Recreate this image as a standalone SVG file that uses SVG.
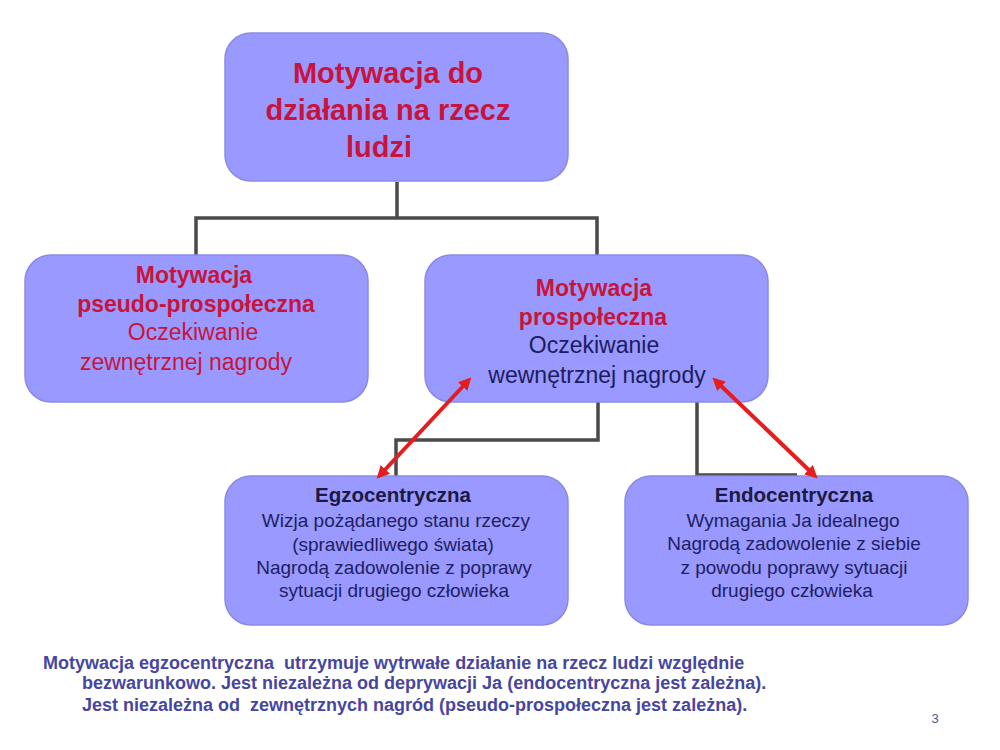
<svg xmlns="http://www.w3.org/2000/svg" width="1000" height="750" viewBox="0 0 1000 750">
<defs>
<style>
.box{fill:#9999ff;stroke:#8a8ae6;stroke-width:1.5}
.conn{fill:none;stroke:#4a4a4a;stroke-width:3.5}
.arr{stroke:#e41e1e;stroke-width:4;fill:none;marker-start:url(#ah);marker-end:url(#ah)}
text{font-family:"Liberation Sans",Arial,sans-serif;text-anchor:middle}
.t1{font-size:29px;font-weight:bold;fill:#c8143c}
.rb{font-size:23px;font-weight:bold;fill:#c8143c}
.rn{font-size:23px;fill:#c8143c}
.nn{font-size:23px;fill:#1c1c60}
.hb{font-size:20.5px;font-weight:bold;fill:#1a1a44}
.hn{font-size:19px;fill:#1e1e64}
.note{font-size:18px;font-weight:bold;fill:#4646a0;text-anchor:start}
</style>
<marker id="ah" viewBox="0 0 10 10" refX="5" refY="5" markerWidth="3.2" markerHeight="3.2" orient="auto-start-reverse">
<path d="M0,0 L10,5 L0,10 z" fill="#e41e1e"/>
</marker>
</defs>
<rect width="1000" height="750" fill="#ffffff"/>
<g id="connectors">
<polyline class="conn" points="397,182 397,218"/>
<polyline class="conn" points="196,255 196,218 597,218 597,255"/>
<polyline class="conn" points="598,402 598,440 396,440 396,476"/>
<polyline class="conn" points="697,402 697,475 797,475"/>
</g>
<g id="n-top">
<rect class="box" x="225" y="33" width="343" height="148" rx="26"/>
<text class="t1" x="388" y="83">Motywacja do</text>
<text class="t1" x="388" y="120">działania na rzecz</text>
<text class="t1" x="379" y="157">ludzi</text>
</g>
<g id="n-pseudo">
<rect class="box" x="25" y="255" width="343" height="147" rx="26"/>
<text class="rb" x="194" y="283">Motywacja</text>
<text class="rb" x="196" y="312">pseudo-prospołeczna</text>
<text class="rn" x="193" y="340">Oczekiwanie</text>
<text class="rn" x="186" y="370">zewnętrznej nagrody</text>
</g>
<g id="n-pro">
<rect class="box" x="425" y="255" width="343" height="147" rx="26"/>
<text class="rb" x="594" y="296">Motywacja</text>
<text class="rb" x="593" y="325">prospołeczna</text>
<text class="nn" x="594" y="353">Oczekiwanie</text>
<text class="nn" x="597" y="383">wewnętrznej nagrody</text>
</g>
<g id="n-egzo">
<rect class="box" x="225" y="476" width="343" height="149" rx="26"/>
<text class="hb" x="393" y="502">Egzocentryczna</text>
<text class="hn" x="396" y="527">Wizja pożądanego stanu rzeczy</text>
<text class="hn" x="393" y="551">(sprawiedliwego świata)</text>
<text class="hn" x="394" y="574">Nagrodą zadowolenie z poprawy</text>
<text class="hn" x="394" y="597">sytuacji drugiego człowieka</text>
</g>
<g id="n-endo">
<rect class="box" x="625" y="476" width="343" height="149" rx="26"/>
<text class="hb" x="794" y="502">Endocentryczna</text>
<text class="hn" x="793" y="527">Wymagania Ja idealnego</text>
<text class="hn" x="794" y="550">Nagrodą zadowolenie z siebie</text>
<text class="hn" x="794" y="574">z powodu poprawy sytuacji</text>
<text class="hn" x="792" y="597">drugiego człowieka</text>
</g>
<g id="arrows">
<line class="arr" x1="467" y1="382" x2="381" y2="474"/>
<line class="arr" x1="717" y1="382" x2="813" y2="474"/>
</g>
<g id="note">
<text class="note" x="43" y="669" xml:space="preserve">Motywacja egzocentryczna  utrzymuje wytrwałe działanie na rzecz ludzi względnie</text>
<text class="note" x="82" y="689">bezwarunkowo. Jest niezależna od deprywacji Ja (endocentryczna jest zależna).</text>
<text class="note" x="82" y="711" xml:space="preserve">Jest niezależna od  zewnętrznych nagród (pseudo-prospołeczna jest zależna).</text>
<text x="935" y="723" style="font-size:13px;fill:#555577">3</text>
</g>
</svg>
